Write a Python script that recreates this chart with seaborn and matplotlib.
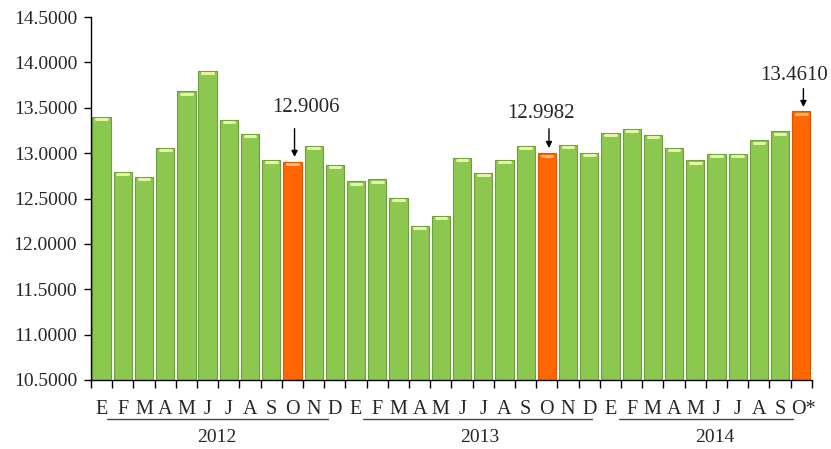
import numpy as np
import pandas as pd
import matplotlib
matplotlib.use("Agg")
import matplotlib.pyplot as plt
import matplotlib.transforms as mtransforms
import seaborn as sns

# Monthly values, Jan 2012 .. Oct 2014
values_2012 = [13.40, 12.79, 12.74, 13.06, 13.68, 13.91, 13.37, 13.21, 12.93, 12.9006, 13.08, 12.87]
values_2013 = [12.69, 12.71, 12.51, 12.20, 12.31, 12.95, 12.78, 12.93, 13.08, 12.9982, 13.09, 13.00]
values_2014 = [13.22, 13.27, 13.20, 13.06, 12.92, 12.99, 12.99, 13.14, 13.24, 13.4610]

months_full = ["E", "F", "M", "A", "M", "J", "J", "A", "S", "O", "N", "D"]
months_2014 = ["E", "F", "M", "A", "M", "J", "J", "A", "S", "O*"]
years = ["2012", "2013", "2014"]
callouts = ["12.9006", "12.9982", "13.4610"]
y_ticks = [10.5, 11.0, 11.5, 12.0, 12.5, 13.0, 13.5, 14.0, 14.5]

values = values_2012 + values_2013 + values_2014
month_labels = months_full + months_full + months_2014
is_october = [m.startswith("O") for m in month_labels]

df = pd.DataFrame({
    "pos": np.arange(len(values)),
    "value": values,
    "kind": ["oct" if o else "other" for o in is_october],
})

sns.set_theme(style="white")
plt.rcParams["font.family"] = ["Liberation Serif", "DejaVu Serif"]

GREEN = "#8CC74F"
GREEN_EDGE = "#6F9F3C"
ORANGE = "#FF6600"
ORANGE_EDGE = "#D95500"

fig = plt.figure(figsize=(8.31, 4.49), dpi=100)
ax = fig.add_axes([0.1095, 0.1537, 0.8675, 0.8083])

sns.barplot(data=df, x="pos", y="value", hue="kind",
            palette={"other": GREEN, "oct": ORANGE},
            dodge=False, width=0.86, legend=False, ax=ax,
            saturation=1.0)

# edge colour by the bar's own position
for patch in ax.patches:
    idx = int(round(patch.get_x() + patch.get_width() / 2))
    if 0 <= idx < len(values):
        patch.set_edgecolor(ORANGE_EDGE if is_october[idx] else GREEN_EDGE)
        patch.set_linewidth(0.8)

# small glossy highlight at the top of each bar
for i, (v, oct_flag) in enumerate(zip(values, is_october)):
    hl = "#FFB870" if oct_flag else "#E4F5A6"
    ax.plot([i - 0.25, i + 0.25], [v - 0.025, v - 0.025], color=hl,
            lw=2.2, solid_capstyle="round", zorder=5)

ax.set_xlim(-0.5, len(values) - 0.5)
ax.set_ylim(10.5, 14.5)
ax.set_yticks(y_ticks)
ax.set_yticklabels([f"{t:.4f}" for t in y_ticks], fontsize=14)
ax.tick_params(axis="y", direction="out", length=5, width=1, color="black", pad=5, left=True)

# x ticks at bar boundaries, month letters at bar centres
ax.set_xticks(np.arange(len(values) + 1) - 0.5)
ax.set_xticklabels([])
ax.tick_params(axis="x", direction="out", length=6, width=1, color="black", bottom=True)
ax.set_xlabel("")
ax.set_ylabel("")

for side in ["top", "right"]:
    ax.spines[side].set_visible(False)
for side in ["left", "bottom"]:
    ax.spines[side].set_color("black")
    ax.spines[side].set_linewidth(1.0)

trans = mtransforms.blended_transform_factory(ax.transData, ax.transAxes)
for i, lab in enumerate(month_labels):
    dx = 0.1 if lab == "O*" else 0.0
    ax.text(i + dx, -0.08, lab, transform=trans, ha="center", va="center",
            fontsize=14.5)

# year groups with underline
line_spans = [(0.25, 10.68), (12.33, 23.13), (24.4, 32.6)]
for la, lb in line_spans:
    ax.plot([la, lb], [-0.107, -0.107], transform=trans, color="#444444",
            lw=1.0, clip_on=False)
label_x = [5.45, 17.85, 28.9]
for yr, lx in zip(years, label_x):
    ax.text(lx, -0.158, yr, transform=trans, ha="center", va="center", fontsize=14)

# callouts on October values
oct_idx = [i for i, o in enumerate(is_october) if o]
text_dx = [0.65, -0.3, -0.35]
text_gap = [0.60, 0.44, 0.40]
arrow_top = [0.37, 0.27, 0.25]
arrow_tip = [0.057, 0.058, 0.047]
for idx, txt, dx, gap, at, tip in zip(oct_idx, callouts, text_dx, text_gap, arrow_top, arrow_tip):
    v = values[idx]
    ax.annotate("", xy=(idx + 0.1, v + tip), xytext=(idx + 0.1, v + at),
                arrowprops=dict(arrowstyle="-|>", color="black", lw=1.0,
                                mutation_scale=9, shrinkA=0, shrinkB=0))
    ax.text(idx + dx, v + gap, txt, ha="center", va="center", fontsize=15)

fig.savefig("out.png", dpi=100, facecolor="white")
